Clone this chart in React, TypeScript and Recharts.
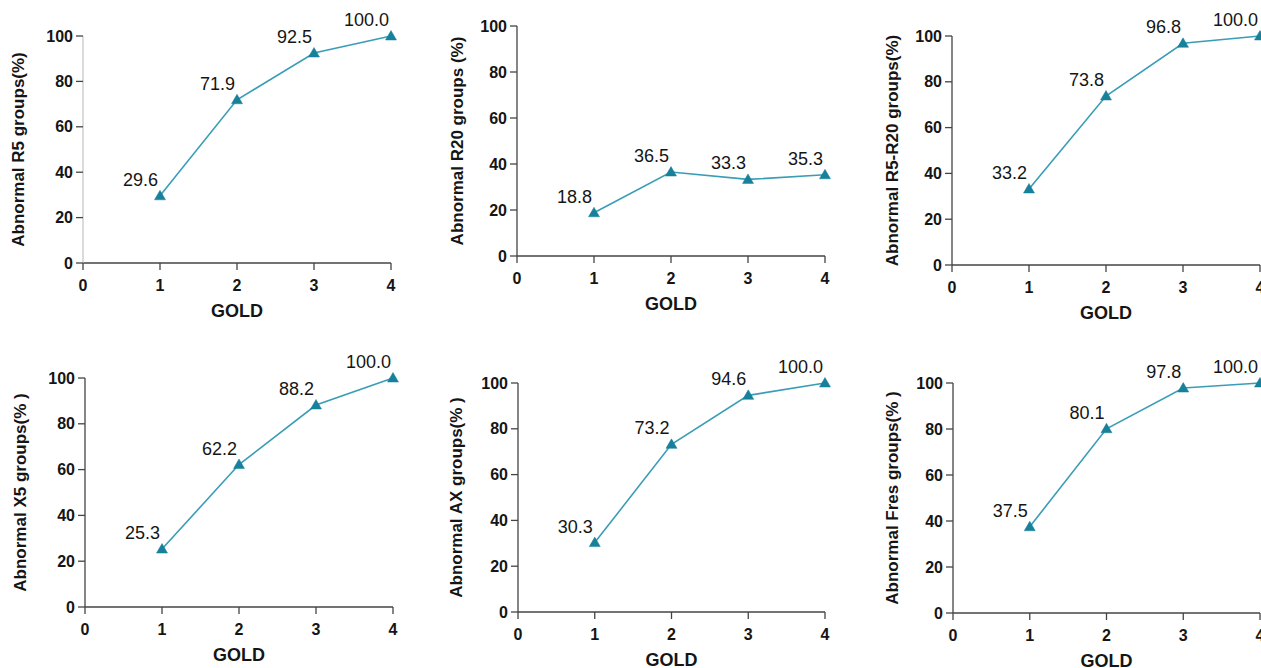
import React from 'react';
import { LineChart, Line, XAxis, YAxis, LabelList, Label } from 'recharts';

const GOLD_STAGES = [1, 2, 3, 4];
const R5_VALUES = [29.6, 71.9, 92.5, 100.0];
const R20_VALUES = [18.8, 36.5, 33.3, 35.3];
const R5R20_VALUES = [33.2, 73.8, 96.8, 100.0];
const X5_VALUES = [25.3, 62.2, 88.2, 100.0];
const AX_VALUES = [30.3, 73.2, 94.6, 100.0];
const FRES_VALUES = [37.5, 80.1, 97.8, 100.0];
const X_TICKS = [0, 1, 2, 3, 4];
const Y_TICKS = [0, 20, 40, 60, 80, 100];
const Y_TITLES = [
  'Abnormal R5 groups(%)',
  'Abnormal R20 groups (%)',
  'Abnormal R5-R20 groups(%)',
  'Abnormal X5 groups(% )',
  'Abnormal AX groups(% )',
  'Abnormal Fres groups(% )',
];
const X_TITLE = 'GOLD';
const SERIES = [R5_VALUES, R20_VALUES, R5R20_VALUES, X5_VALUES, AX_VALUES, FRES_VALUES];

// panel geometry (styling only)
const LAYOUT = [
  { axisX: 83, x4: 391, yTop: 36, yBot: 263, yGap: 65, yAxisColor: '#c8c8c8' },
  { axisX: 517, x4: 825, yTop: 26, yBot: 256, yGap: 60, yAxisColor: '#444' },
  { axisX: 952, x4: 1260, yTop: 36, yBot: 265, yGap: 60, yAxisColor: '#444' },
  { axisX: 85, x4: 393, yTop: 378, yBot: 607, yGap: 65, yAxisColor: '#444' },
  { axisX: 518, x4: 825, yTop: 383, yBot: 612, yGap: 62, yAxisColor: '#444' },
  { axisX: 953, x4: 1260, yTop: 383, yBot: 613, yGap: 61, yAxisColor: '#444' },
];

const LINE_COLOR = '#3a9db6';
const MARKER_COLOR = '#17809b';
const TEXT_COLOR = '#151515';
const FONT = '"Liberation Sans", Arial, sans-serif';

const YW = 70;
const ML = 10;
const MT = 30;
const MR = 30;
const XH = 60;

const TriangleDot = (props: any) => {
  const { cx, cy, index } = props;
  if (cx == null || cy == null) return <g key={`d${index}`} />;
  const d = `M${cx},${cy - 5.5} L${cx + 5.5},${cy + 4} L${cx - 5.5},${cy + 4} Z`;
  return <path key={`d${index}`} d={d} fill={MARKER_COLOR} stroke={MARKER_COLOR} strokeWidth={0.5} />;
};

const ValueLabel = (props: any) => {
  const { x, y, value } = props;
  return (
    <text
      x={x - 2}
      y={y - 10}
      textAnchor="end"
      fontSize={18}
      fontFamily={FONT}
      fill={TEXT_COLOR}
    >
      {Number(value).toFixed(1)}
    </text>
  );
};

const XTick = (props: any) => {
  const { x, y, payload } = props;
  return (
    <text
      x={x}
      y={y + 6}
      textAnchor="middle"
      dominantBaseline="central"
      fontSize={16}
      fontWeight="bold"
      fontFamily={FONT}
      fill={TEXT_COLOR}
    >
      {payload.value}
    </text>
  );
};

const YTick = (props: any) => {
  const { x, y, payload } = props;
  return (
    <text
      x={x}
      y={y}
      textAnchor="end"
      dominantBaseline="central"
      fontSize={16}
      fontWeight="bold"
      fontFamily={FONT}
      fill={TEXT_COLOR}
    >
      {payload.value}
    </text>
  );
};

function Panel({ idx }: { idx: number }) {
  const g = LAYOUT[idx];
  const values = SERIES[idx];
  const data = GOLD_STAGES.map((s, i) => ({ gold: s, v: values[i] }));
  const plotW = g.x4 - g.axisX;
  const plotH = g.yBot - g.yTop;
  const width = ML + YW + plotW + MR;
  const height = MT + plotH + XH;
  const left = g.axisX - YW - ML;
  const top = g.yTop - MT;

  return (
    <div style={{ position: 'absolute', left, top, width, height }}>
      <LineChart
        width={width}
        height={height}
        data={data}
        margin={{ top: MT, right: MR, bottom: 0, left: ML }}
      >
        <XAxis
          type="number"
          dataKey="gold"
          domain={[0, 4]}
          ticks={X_TICKS}
          height={XH}
          tickSize={7}
          tickMargin={9}
          axisLine={{ stroke: '#444', strokeWidth: 1.3 }}
          tickLine={{ stroke: '#444', strokeWidth: 1.3 }}
          tick={XTick}
        >
          <Label
            content={(p: any) => {
              const vb = p.viewBox;
              return (
                <text
                  x={vb.x + vb.width / 2}
                  y={vb.y + 48}
                  textAnchor="middle"
                  dominantBaseline="central"
                  fontSize={18}
                  fontWeight="bold"
                  fontFamily={FONT}
                  fill={TEXT_COLOR}
                >
                  {X_TITLE}
                </text>
              );
            }}
          />
        </XAxis>
        <YAxis
          type="number"
          domain={[0, 100]}
          ticks={Y_TICKS}
          width={YW}
          tickSize={7}
          tickMargin={3}
          axisLine={{ stroke: g.yAxisColor, strokeWidth: 1.3 }}
          tickLine={{ stroke: '#444', strokeWidth: 1.3 }}
          tick={YTick}
        >
          <Label
            content={(p: any) => {
              const vb = p.viewBox;
              const ax = vb.x + vb.width;
              const cx = ax - g.yGap;
              const cy = vb.y + vb.height / 2;
              return (
                <text
                  x={cx}
                  y={cy}
                  transform={`rotate(-90, ${cx}, ${cy})`}
                  textAnchor="middle"
                  dominantBaseline="central"
                  fontSize={17}
                  fontWeight="bold"
                  fontFamily={FONT}
                  fill={TEXT_COLOR}
                >
                  {Y_TITLES[idx]}
                </text>
              );
            }}
          />
        </YAxis>
        <Line
          type="linear"
          dataKey="v"
          stroke={LINE_COLOR}
          strokeWidth={1.6}
          dot={TriangleDot}
          activeDot={false}
          isAnimationActive={false}
        >
          <LabelList dataKey="v" content={ValueLabel} />
        </Line>
      </LineChart>
    </div>
  );
}

export default function App() {
  return (
    <div
      style={{
        position: 'absolute',
        left: 0,
        top: 0,
        width: 1261,
        height: 668,
        overflow: 'hidden',
        background: '#fff',
        fontFamily: FONT,
      }}
    >
      {LAYOUT.map((_, i) => (
        <Panel key={i} idx={i} />
      ))}
    </div>
  );
}
